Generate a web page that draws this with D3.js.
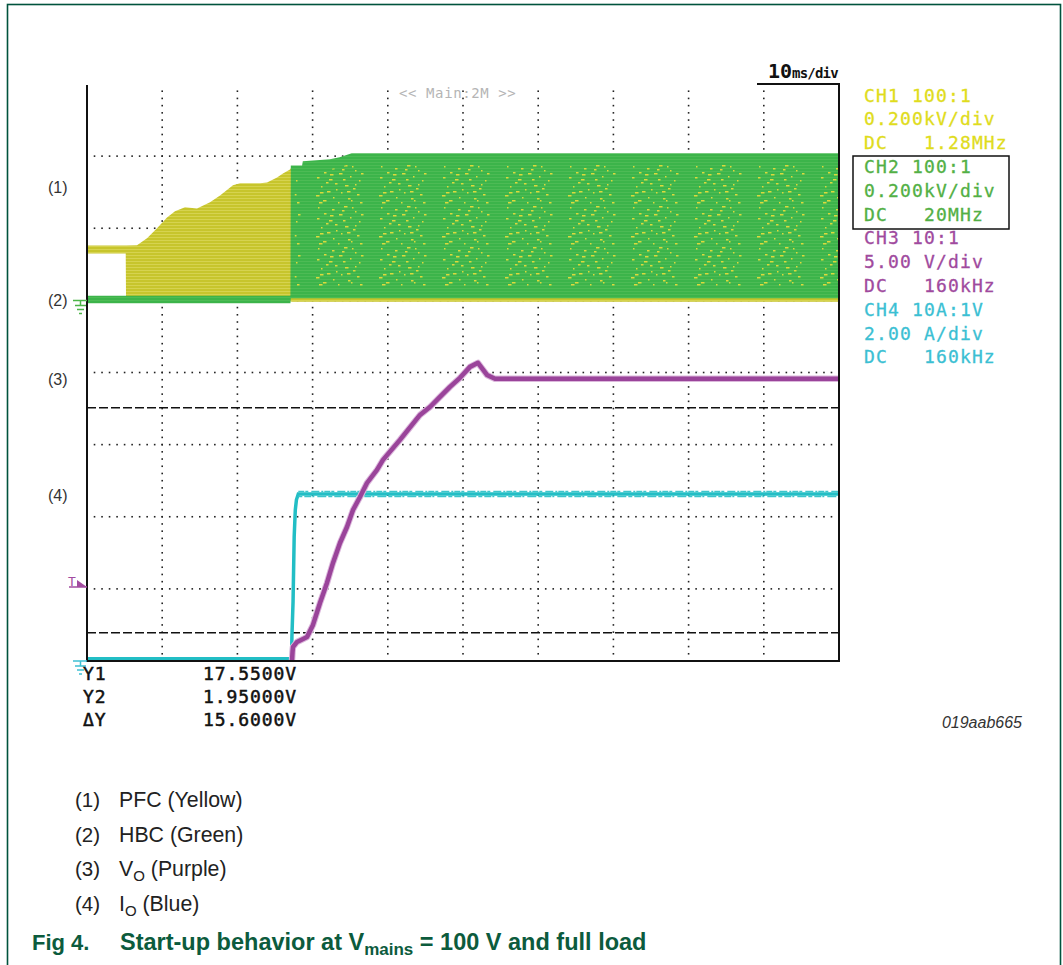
<!DOCTYPE html>
<html><head><meta charset="utf-8">
<script src="https://cdn.jsdelivr.net/npm/d3@7"></script>
<style>body{margin:0;background:#fff} svg{display:block}</style>
</head><body>
<svg id="c" width="1063" height="965"></svg>
<script>
// ---------------- data (time in ms, 10 ms/div) ----------------
// CH1 PFC (yellow) envelope, volts (0.200 kV/div)
const ch1Time = [0, 5.15, 5.19, 6.65, 7.98, 9.31, 10.64, 11.70, 13.03, 14.63, 16.36, 17.69, 19.41, 20.35, 23.01, 23.94, 25.27, 26.06, 26.99, 27.2, 100];
const ch1Max  = [152, 152, 152, 153, 172, 200, 230, 247, 258, 255, 272, 291, 319, 325, 325, 327, 341, 352, 363, 370, 400];
const ch1Min  = [130, 130, 0, 0, 0, 0, 0, 0, 0, 0, 0, 0, 0, 0, 0, 0, 0, 0, 0, -4, -4];
// CH2 HBC (green) envelope, volts (0.200 kV/div)
const ch2Time = [0, 27.05, 27.1, 28.6, 28.7, 32.3, 33.6, 35.2, 100];
const ch2Max  = [13, 13, 374, 374, 386, 391, 397, 408, 408];
const ch2Min  = [-8, -8, 6, 6, 6, 6, 6, 6, 6];
// CH3 Vo (purple), volts (5.00 V/div)
const ch3Time  = [27.26, 27.33, 27.39, 27.93, 29.26, 30.05, 30.98, 31.91, 32.71, 33.64, 34.57, 35.37, 36.30, 37.23, 38.56, 39.36, 41.62, 44.28, 45.61, 46.94, 48.27, 49.60, 50.93, 51.99, 53.19, 54.26, 100];
const ch3Volts = [0, 0.62, 0.97, 1.32, 1.66, 2.50, 4.02, 5.41, 6.80, 8.18, 9.29, 10.47, 11.37, 12.34, 13.25, 13.94, 15.33, 17.06, 17.61, 18.31, 19.00, 19.63, 20.39, 20.67, 19.83, 19.56, 19.56];
// CH4 Io (cyan), amps (2.00 A/div)
const ch4Time = [0, 27.2, 27.25, 27.4, 27.55, 27.7, 27.85, 28.1, 100];
const ch4Amps = [0.06, 0.06, 0.67, 1.64, 3.44, 4.19, 4.47, 4.63, 4.63];
// cursors (CH3)
const cursorVolts  = [17.55, 1.95];
const cursorNames  = ["Y1", "Y2", "\u0394Y"];
const cursorValues = ["17.5500V", "1.95000V", "15.6000V"];
const triggerVolts = 5.13;
// channel settings
const channelText = ["CH1 100:1", "0.200kV/div", "DC   1.28MHz",
                     "CH2 100:1", "0.200kV/div", "DC   20MHz",
                     "CH3 10:1", "5.00 V/div", "DC   160kHz",
                     "CH4 10A:1V", "2.00 A/div", "DC   160kHz"];
const channelColors = ["#e0dc1c", "#52b045", "#a04a9e", "#3bbfd3"];
const traceLabels = ["(1)", "(2)", "(3)", "(4)"];
const legendNames = ["PFC (Yellow)", "HBC (Green)", "V", "I"];
const legendSubs  = ["", "", "O", "O"];
const legendTails = ["", "", " (Purple)", " (Blue)"];

// ---------------- scales ----------------
const svg = d3.select("#c");
const X0 = 87, X1 = 839, YT = 84, YB = 661;
const x    = d3.scaleLinear().domain([0, 100]).range([X0, X1]);
const div  = d3.scaleLinear().domain([0, 8]).range([YB, YT]);
const yHV  = d3.scaleLinear().domain([-5 * 200, 3 * 200]).range([YB, YT]); // CH1/CH2 ground at div 5
const yVo  = d3.scaleLinear().domain([0, 8 * 5]).range([YB, YT]);
const yIo  = d3.scaleLinear().domain([0, 8 * 2]).range([YB, YT]);

// ---------------- defs ----------------
const defs = svg.append("defs");
const py = defs.append("pattern").attr("id", "ystripe").attr("patternUnits", "userSpaceOnUse").attr("width", 4).attr("height", 3);
py.append("rect").attr("width", 4).attr("height", 3).attr("fill", "#c7c52c");
py.append("rect").attr("width", 4).attr("height", 1).attr("fill", "#d6d34f");
const pg = defs.append("pattern").attr("id", "gstripe").attr("patternUnits", "userSpaceOnUse").attr("width", 4).attr("height", 3);
pg.append("rect").attr("width", 4).attr("height", 3).attr("fill", "#3cb44a");
pg.append("rect").attr("width", 4).attr("height", 1).attr("fill", "#4dbb55");
const ps = defs.append("pattern").attr("id", "speck").attr("patternUnits", "userSpaceOnUse").attr("width", 63).attr("height", 41);
[[3,2],[17,4],[29,1],[40,6],[9,8],[24,9],[35,12],[2,13],[14,15],[44,16],[20,19],[30,21],[6,22],[38,24],[12,27],
 [26,28],[42,30],[1,31],[18,33],[33,34],[8,36],[23,38],[45,38],[15,10],[37,2],[28,15],[5,28],[40,20],[11,18],[32,27],
 [21,25],[46,9],[4,38],[36,36],[27,5]].forEach((p, i) =>
  ps.append("rect").attr("x", p[0]).attr("y", p[1]).attr("width", 1.5 + (i % 3)).attr("height", 1.5).attr("fill", "#dcda3c"));

// frame
svg.append("rect").attr("x", 7.5).attr("y", 4.5).attr("width", 1053).attr("height", 1000)
  .attr("fill", "none").attr("stroke", "#00533d").attr("stroke-width", 1.6);

// ---------------- grid dots ----------------
const gDots = svg.append("g").attr("fill", "#222");
const vStep = (YB - YT) / 80, hStep = (X1 - X0) / 100;
const vDots = [];
d3.range(1, 10).forEach(k => d3.range(1, 80).forEach(j => vDots.push([x(k * 10), YT + j * vStep])));
const hDots = [];
d3.range(1, 8).forEach(k => d3.range(1, 100).forEach(j => hDots.push([X0 + j * hStep, div(k)])));
gDots.selectAll("rect").data(vDots.concat(hDots)).join("rect")
  .attr("x", d => d[0] - 0.8).attr("y", d => d[1] - 0.8).attr("width", 1.6).attr("height", 1.6);

// ---------------- traces ----------------
const env = (t, lo, hi, y) => d3.area().x(i => x(t[i])).y0(i => y(lo[i])).y1(i => y(hi[i]))(d3.range(t.length));
svg.append("path").attr("d", env(ch1Time, ch1Min, ch1Max, yHV)).attr("fill", "url(#ystripe)");
svg.append("path").attr("d", env(ch2Time, ch2Min, ch2Max, yHV)).attr("fill", "url(#gstripe)");
// yellow speckles inside green burst
const inner = d3.range(ch2Time.length).filter(i => ch2Time[i] >= 27.1);
svg.append("path").attr("d", d3.area().x(i => x(ch2Time[i]) + (i === inner[0] ? 4 : 0))
    .y0(i => yHV(ch2Min[i]) - 12).y1(i => yHV(ch2Max[i]) + 10)(inner))
  .attr("fill", "url(#speck)");

// cursors
svg.append("g").selectAll("line").data(cursorVolts).join("line")
  .attr("x1", X0).attr("x2", X1).attr("y1", d => yVo(d)).attr("y2", d => yVo(d))
  .attr("stroke", "#111").attr("stroke-width", 1.5).attr("stroke-dasharray", "9 3");

// cyan Io
const lineIo = d3.line().x(i => x(ch4Time[i])).y(i => yIo(ch4Amps[i]));
svg.append("path").attr("d", lineIo(d3.range(ch4Time.length))).attr("fill", "none")
  .attr("stroke", "#22bec5").attr("stroke-width", 3.5);
const noiseIdx = d3.range(ch4Time.length).filter(i => ch4Time[i] >= 28.1);
[-2.5, 2.5].forEach((dy, k) => svg.append("path").attr("d", lineIo(noiseIdx)).attr("transform", `translate(0,${dy})`)
  .attr("fill", "none").attr("stroke", "#3cc5cb").attr("stroke-width", 1.6)
  .attr("stroke-dasharray", k ? "4 2 7 1 2 3 9 2" : "6 1 3 3 8 2 2 1"));

// purple Vo
const lineVo = d3.line().x(i => x(ch3Time[i])).y(i => yVo(ch3Volts[i]));
svg.append("path").attr("d", lineVo(d3.range(ch3Time.length))).attr("fill", "none")
  .attr("stroke", "#dcb8dc").attr("stroke-width", 6.5).attr("stroke-linejoin", "round");
svg.append("path").attr("d", lineVo(d3.range(ch3Time.length))).attr("fill", "none")
  .attr("stroke", "#9a449a").attr("stroke-width", 4.5).attr("stroke-linejoin", "round");

// plot border + time/div bracket
svg.append("path").attr("d", `M${X0},${YT + 1}V${YB}H${X1}V${YT}H757`)
  .attr("fill", "none").attr("stroke", "#111").attr("stroke-width", 2);

// ground markers
function ground(yv, color) {
  svg.append("path").attr("d", `M73,${yv}H87M80.5,${yv}V${yv + 5}M75,${yv + 5}H86M77,${yv + 9}H84M79,${yv + 13}H82`)
    .attr("stroke", color).attr("stroke-width", 1.5).attr("fill", "none");
}
ground(yHV(0), "#4cb548");
ground(yIo(0), "#3fc0d3");
// trigger marker
const ty = yVo(triggerVolts);
svg.append("path").attr("d", `M69,${ty}H87`).attr("stroke", "#a24ca0").attr("stroke-width", 1.5);
svg.append("path").attr("d", `M77,${ty - 7}L87,${ty}L77,${ty}Z`).attr("fill", "#a24ca0");
svg.append("text").attr("x", 68).attr("y", ty - 1).text("T").attr("fill", "#a24ca0")
  .attr("font-family", "DejaVu Sans Mono").attr("font-size", 13);

// ---------------- texts ----------------
const mono = "DejaVu Sans Mono";
svg.append("text").attr("x", 399).attr("y", 98).attr("font-family", mono).attr("font-size", 14)
  .attr("letter-spacing", 0.6).attr("fill", "#b5b5b5").attr("xml:space", "preserve").text("<< Main:2M >>");
const td = svg.append("text").attr("x", 768).attr("y", 78).attr("font-family", mono).attr("font-weight", "bold").attr("fill", "#111");
td.append("tspan").attr("font-size", 20).text("10");
td.append("tspan").attr("font-size", 14).attr("letter-spacing", -0.8).text("ms/div");

svg.append("g").selectAll("text").data(channelText).join("text")
  .attr("x", 864).attr("y", (d, i) => 101.5 + i * 23.8)
  .attr("font-family", mono).attr("font-size", 18).attr("letter-spacing", 1.15)
  .attr("stroke", (d, i) => channelColors[Math.floor(i / 3)]).attr("stroke-width", 0.3)
  .attr("fill", (d, i) => channelColors[Math.floor(i / 3)]).attr("xml:space", "preserve").text(d => d);
svg.append("rect").attr("x", 853).attr("y", 156).attr("width", 156).attr("height", 73)
  .attr("fill", "none").attr("stroke", "#111").attr("stroke-width", 1.5);

const labelY = [yHV(313), yHV(0), yVo(19.56), yIo(4.6)];
svg.append("g").selectAll("text").data(traceLabels).join("text")
  .attr("x", 48).attr("y", (d, i) => labelY[i] + 6).attr("font-family", "Liberation Sans")
  .attr("font-size", 16).attr("fill", "#333").text(d => d);

const gc = svg.append("g").attr("font-family", mono).attr("font-size", 18).attr("letter-spacing", 0.9)
  .attr("fill", "#111").attr("stroke", "#111").attr("stroke-width", 0.5);
gc.selectAll("text.n").data(cursorNames).join("text").attr("x", 83).attr("y", (d, i) => 680 + i * 23).text(d => d);
gc.selectAll("text.v").data(cursorValues).join("text").attr("class", "v").attr("x", 203).attr("y", (d, i) => 680 + i * 23).text(d => d);

svg.append("text").attr("x", 1022).attr("y", 728).attr("text-anchor", "end").attr("font-family", "Liberation Sans")
  .attr("font-style", "italic").attr("font-size", 16).attr("fill", "#333").text("019aab665");

const lg = svg.append("g").attr("font-family", "Liberation Sans").attr("fill", "#222");
traceLabels.forEach((n, i) => {
  const yb = 807 + i * 34.7;
  lg.append("text").attr("x", 75).attr("y", yb).attr("font-size", 20.5).text(n);
  const t = lg.append("text").attr("x", 119).attr("y", yb).attr("font-size", 21.3);
  t.append("tspan").text(legendNames[i]);
  if (legendSubs[i]) {
    t.append("tspan").attr("font-size", 15).attr("dy", 5).text(legendSubs[i]);
    t.append("tspan").attr("dy", -5).text(legendTails[i]);
  }
});
const ft = svg.append("g").attr("font-family", "Liberation Sans").attr("font-weight", "bold").attr("fill", "#0c5b3d");
ft.append("text").attr("x", 32).attr("y", 950).attr("font-size", 22).text("Fig 4.");
const tt = ft.append("text").attr("x", 120).attr("y", 950).attr("font-size", 23.5);
tt.append("tspan").text("Start-up behavior at V");
tt.append("tspan").attr("font-size", 17).attr("dy", 5).text("mains");
tt.append("tspan").attr("dy", -5).text(" = 100 V and full load");
</script>
</body></html>
